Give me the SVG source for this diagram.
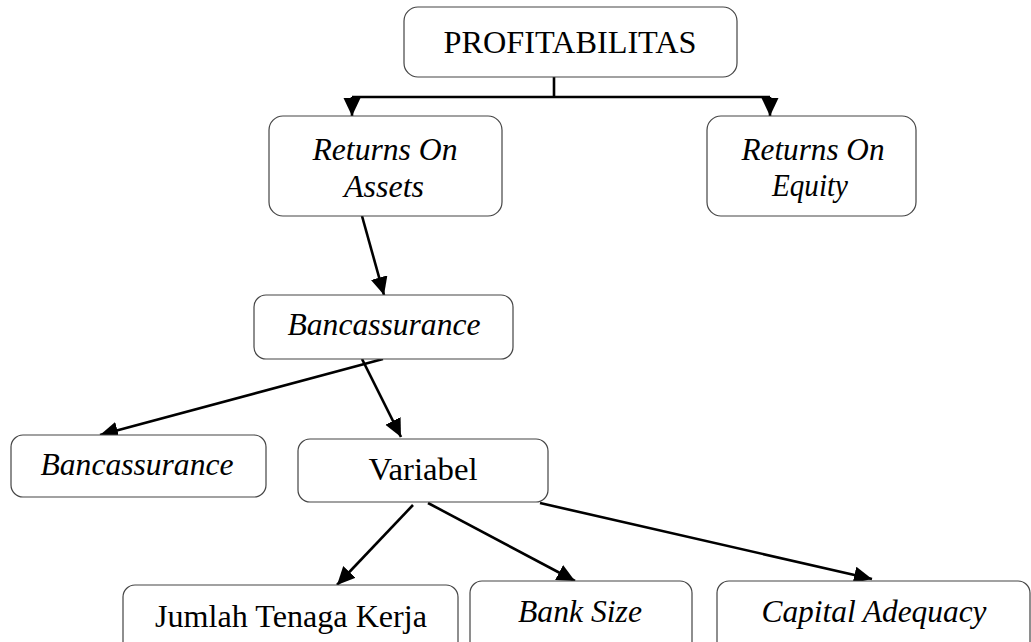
<svg xmlns="http://www.w3.org/2000/svg" width="1031" height="642" viewBox="0 0 1031 642">
<style>
.box{fill:#fff;stroke:#444;stroke-width:1.2}
.t{font-family:"Liberation Serif","Times New Roman",serif;font-size:32px;fill:#000;text-anchor:middle}
.i{font-style:italic}
.c{stroke:#000;stroke-width:2.6;fill:none}
</style>
<defs>
<marker id="ah" markerUnits="userSpaceOnUse" markerWidth="19" markerHeight="18" refX="18" refY="8.5" orient="auto">
<path d="M0,0 L18,8.5 L0,17 z" fill="#000"/>
</marker>
</defs>
<rect width="1031" height="642" fill="#fff"/>
<g id="connectors">
<line class="c" x1="554" y1="77" x2="554" y2="97"/>
<line class="c" x1="352" y1="97" x2="770" y2="97"/>
<line class="c" x1="352" y1="97" x2="352" y2="116" marker-end="url(#ah)"/>
<line class="c" x1="770" y1="97" x2="770" y2="116" marker-end="url(#ah)"/>
<line class="c" x1="362" y1="216" x2="384" y2="295" marker-end="url(#ah)"/>
<line class="c" x1="383" y1="359" x2="100" y2="435" marker-end="url(#ah)"/>
<line class="c" x1="362" y1="359" x2="401" y2="437" marker-end="url(#ah)"/>
<line class="c" x1="413" y1="505" x2="337" y2="585" marker-end="url(#ah)"/>
<line class="c" x1="428" y1="503" x2="575" y2="581" marker-end="url(#ah)"/>
<line class="c" x1="540" y1="503" x2="872" y2="579" marker-end="url(#ah)"/>
</g>
<g id="profitabilitas">
<rect class="box" x="404" y="7" width="333" height="70" rx="14"/>
<text class="t" x="570" y="53" textLength="253" lengthAdjust="spacingAndGlyphs">PROFITABILITAS</text>
</g>
<g id="roa">
<rect class="box" x="269" y="116" width="233" height="100" rx="14"/>
<text class="t i" x="385" y="160" textLength="145" lengthAdjust="spacingAndGlyphs">Returns On</text>
<text class="t i" x="384" y="197" textLength="80" lengthAdjust="spacingAndGlyphs">Assets</text>
</g>
<g id="roe">
<rect class="box" x="707" y="116" width="209" height="100" rx="14"/>
<text class="t i" x="813" y="160" textLength="143" lengthAdjust="spacingAndGlyphs">Returns On</text>
<text class="t i" x="810" y="196" textLength="76" lengthAdjust="spacingAndGlyphs">Equity</text>
</g>
<g id="bancassurance-main">
<rect class="box" x="254" y="295" width="259" height="64" rx="12"/>
<text class="t i" x="384" y="335" textLength="193" lengthAdjust="spacingAndGlyphs">Bancassurance</text>
</g>
<g id="bancassurance-sub">
<rect class="box" x="11" y="435" width="255" height="62" rx="12"/>
<text class="t i" x="137" y="475" textLength="193" lengthAdjust="spacingAndGlyphs">Bancassurance</text>
</g>
<g id="variabel">
<rect class="box" x="298" y="439" width="250" height="63" rx="12"/>
<text class="t" x="423" y="480" textLength="109" lengthAdjust="spacingAndGlyphs">Variabel</text>
</g>
<g id="jumlah">
<rect class="box" x="123" y="585" width="335" height="75" rx="12"/>
<text class="t" x="291" y="627" textLength="272" lengthAdjust="spacingAndGlyphs">Jumlah Tenaga Kerja</text>
</g>
<g id="banksize">
<rect class="box" x="470" y="581" width="222" height="75" rx="12"/>
<text class="t i" x="580" y="622" textLength="124" lengthAdjust="spacingAndGlyphs">Bank Size</text>
</g>
<g id="capital">
<rect class="box" x="717" y="581" width="313" height="75" rx="12"/>
<text class="t i" x="874" y="622" textLength="225" lengthAdjust="spacingAndGlyphs">Capital Adequacy</text>
</g>
</svg>
